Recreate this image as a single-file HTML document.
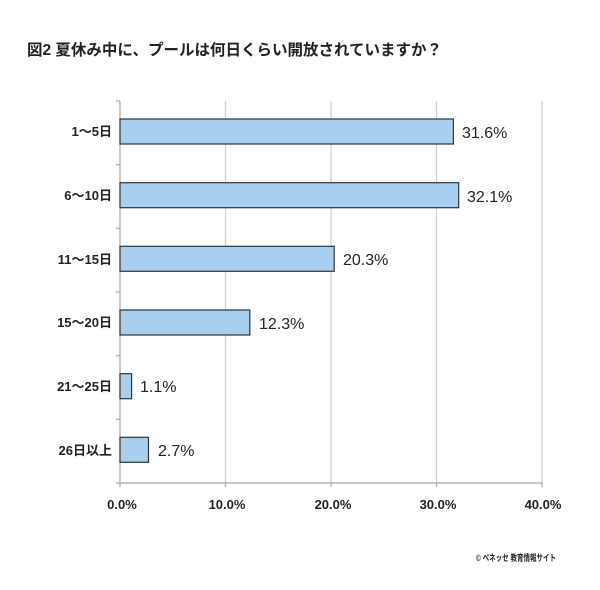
<!DOCTYPE html>
<html><head><meta charset="utf-8"><style>
body{margin:0;background:#fff;}
svg text{font-family:"Liberation Sans","Noto Sans CJK JP",sans-serif;fill:#222;}
</style></head><body>
<svg width="600" height="585" viewBox="0 0 600 585" xmlns="http://www.w3.org/2000/svg">
<rect width="600" height="585" fill="#fff"/>
<text x="27" y="55" font-size="15.5" font-weight="bold">図2  夏休み中に、プールは何日くらい開放されていますか？</text>
<g stroke="#cfcfcf" stroke-width="1.2">
<line x1="225.5" y1="101" x2="225.5" y2="483"/>
<line x1="331" y1="101" x2="331" y2="483"/>
<line x1="436.5" y1="101" x2="436.5" y2="483"/>
<line x1="542" y1="101" x2="542" y2="483"/>
</g>
<g stroke="#aaa" stroke-width="1.2">
<line x1="120" y1="101" x2="120" y2="483"/>
<line x1="116" y1="483" x2="542" y2="483"/>
<line x1="116" y1="101" x2="120" y2="101"/>
<line x1="116" y1="164.7" x2="120" y2="164.7"/>
<line x1="116" y1="228.3" x2="120" y2="228.3"/>
<line x1="116" y1="292" x2="120" y2="292"/>
<line x1="116" y1="355.7" x2="120" y2="355.7"/>
<line x1="116" y1="419.3" x2="120" y2="419.3"/>
<line x1="120" y1="483" x2="120" y2="487"/>
<line x1="225.5" y1="483" x2="225.5" y2="487"/>
<line x1="331" y1="483" x2="331" y2="487"/>
<line x1="436.5" y1="483" x2="436.5" y2="487"/>
<line x1="542" y1="483" x2="542" y2="487"/>
</g>
<g fill="#a9cff0" stroke="#333" stroke-width="1.2">
<rect x="120" y="119" width="333.4" height="25"/>
<rect x="120" y="182.7" width="338.7" height="25"/>
<rect x="120" y="246.3" width="214.2" height="25"/>
<rect x="120" y="310" width="129.8" height="25"/>
<rect x="120" y="373.7" width="11.6" height="25"/>
<rect x="120" y="437.3" width="28.5" height="25"/>
</g>
<g font-size="13" text-anchor="end" font-weight="bold">
<text x="112" y="136">1～5日</text>
<text x="112" y="200">6～10日</text>
<text x="112" y="264">11～15日</text>
<text x="112" y="327">15～20日</text>
<text x="112" y="391">21～25日</text>
<text x="112" y="455">26日以上</text>
</g>
<g font-size="16">
<text x="462" y="138">31.6%</text>
<text x="467" y="202">32.1%</text>
<text x="343" y="265">20.3%</text>
<text x="259" y="329">12.3%</text>
<text x="140" y="392">1.1%</text>
<text x="158" y="456">2.7%</text>
</g>
<g font-size="13" text-anchor="middle" font-weight="bold">
<text x="122" y="509">0.0%</text>
<text x="227" y="509">10.0%</text>
<text x="333" y="509">20.0%</text>
<text x="438" y="509">30.0%</text>
<text x="543" y="509">40.0%</text>
</g>
<text x="476" y="561" font-size="9" font-weight="bold" textLength="80" lengthAdjust="spacingAndGlyphs">© ベネッセ 教育情報サイト</text>
</svg>
</body></html>
